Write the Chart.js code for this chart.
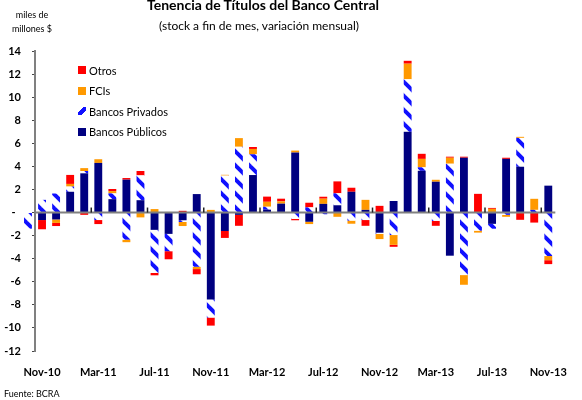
<!DOCTYPE html>
<html>
<head>
<meta charset="utf-8">
<script src="https://cdn.jsdelivr.net/npm/chart.js@4.4.0/dist/chart.umd.min.js"></script>
<style>
  body { margin: 0; background: #fff; font-family: Lato, "Open Sans", sans-serif; color: #000; }
  #wrap { position: relative; width: 582px; height: 400px; overflow: hidden; }
  #chart { position: absolute; left: 0; top: 0; }
  .title { position: absolute; left: 0; width: 526px; top: -4px; text-align: center; font-weight: bold; font-size: 14px; }
  .subtitle { position: absolute; left: 0; width: 518px; top: 18px; text-align: center; font-size: 12px; }
  .unit { position: absolute; left: 4px; width: 56px; text-align: center; font-size: 9px; line-height: 14px; top: 8px; }
  .source { position: absolute; left: 4px; top: 388px; font-size: 9px; }
  .legend { position: absolute; left: 78px; top: 60px; font-size: 11px; }
  .legend div { height: 20.5px; display: flex; align-items: center; }
  .legend span.sw { display: inline-block; width: 8px; height: 8px; margin-right: 3px; }
</style>
</head>
<body>
<div id="wrap">
  <canvas id="chart" width="582" height="400"></canvas>
  <div class="title">Tenencia de Títulos del Banco Central</div>
  <div class="subtitle">(stock a fin de mes, variación mensual)</div>
  <div class="unit">miles de<br>millones $</div>
  <div class="source">Fuente: BCRA</div>
  <div class="legend" id="legend"></div>
</div>
<script>
const months = ["Oct-10","Nov-10","Dec-10","Jan-11","Feb-11","Mar-11","Apr-11","May-11","Jun-11","Jul-11","Aug-11","Sep-11",
  "Oct-11","Nov-11","Dec-11","Jan-12","Feb-12","Mar-12","Apr-12","May-12","Jun-12","Jul-12","Aug-12","Sep-12",
  "Oct-12","Nov-12","Dec-12","Jan-13","Feb-13","Mar-13","Apr-13","May-13","Jun-13","Jul-13","Aug-13","Sep-13","Oct-13","Nov-13"];

const publicos = [0, -0.65, -0.6, 1.8, 3.4, 4.3, 1.16, 2.85, 1.07, -1.5, -1.85, -0.67,
  1.6, -7.53, -1.6, -0.2, 3.25, 0.25, 0.77, 5.2, -0.8, 0.75, 0.63, 1.8,
  0.23, -1.75, 1.0, 7.0, 3.62, 2.67, -3.74, 4.75, 0, -0.98, 4.65, 3.97, 0, 2.33];
const privados = [-1.4, 1.1, 1.65, 0.45, 0.2, -0.65, 0.5, -2.35, 2.15, -3.74, -1.5, -0.15,
  -4.7, -1.57, 3.2, 5.7, 1.8, 0.25, 0, -0.55, 0.45, -0.15, 1.04, -0.7,
  -0.65, -0.1, -1.95, 4.55, 0.3, -0.72, 4.23, -5.42, -1.57, -0.42, -0.2, 2.5, 0.23, -3.77];
const fcis = [0, 0, -0.3, 0.23, 0.25, 0.32, 0.2, -0.22, -0.42, 0.3, 0.05, -0.35,
  -0.2, 0.23, 0.07, 0.75, 0.46, 0.43, 0.2, 0.17, -0.2, 0.45, -0.37, -0.27,
  0.87, -0.45, -0.85, 1.35, 0.73, 0.17, 0.52, -0.84, -0.17, 0.32, -0.17, 0.09, 0.96, -0.36];
const otros = [0, -0.8, -0.27, 0.78, -0.2, -0.35, 0.18, 0.14, 0.38, -0.2, -0.7, 0.15,
  -0.45, -0.7, -0.6, -0.95, 0.17, 0.45, 0.23, -0.12, 0.4, 0.17, 1.03, 0.35,
  -0.5, 0.58, -0.17, 0.25, 0.44, -0.43, 0.09, 0.09, 1.62, 0.08, 0.1, -0.63, -0.87, -0.34];

const yTicks = [14, 12, 10, 8, 6, 4, 2, 0, -2, -4, -6, -8, -10, -12];

const navy = "#000080";
const red = "#ff0000";
const orange = "#ff9900";
const stripeBlue = "#1010ff";

// diagonal stripes for Bancos Privados
function makeStripes() {
  const p = 14;
  const c = document.createElement("canvas");
  c.width = p; c.height = p;
  const g = c.getContext("2d");
  g.fillStyle = "#fff";
  g.fillRect(0, 0, p, p);
  g.strokeStyle = stripeBlue;
  g.lineWidth = 4;
  for (let k = -1; k <= 1; k++) {
    g.beginPath();
    g.moveTo(-2, k * p - 2);
    g.lineTo(p + 2, p + k * p + 2);
    g.stroke();
  }
  return g.createPattern(c, "repeat");
}
const stripes = makeStripes();

// legend (Otros on top)
const legendItems = [
  ["Otros", red],
  ["FCIs", orange],
  ["Bancos Privados", "linear-gradient(135deg, #fff 0 35%, " + stripeBlue + " 35% 70%, #fff 70%)"],
  ["Bancos Públicos", navy]
];
const leg = document.getElementById("legend");
legendItems.forEach(([name, bg]) => {
  const row = document.createElement("div");
  row.innerHTML = "<span class='sw' style='background:" + bg + "'></span>" + name;
  leg.appendChild(row);
});

const zeroLine = {
  id: "zeroLine",
  afterDatasetsDraw(chart) {
    const ctx = chart.ctx;
    const x = chart.scales.x;
    const y = chart.scales.y;
    const y0 = y.getPixelForValue(0);
    ctx.save();
    ctx.strokeStyle = "#808080";
    ctx.lineWidth = 2;
    ctx.beginPath();
    ctx.moveTo(chart.chartArea.left, y0);
    ctx.lineTo(chart.chartArea.right, y0);
    ctx.stroke();
    // little marks between label groups
    ctx.strokeStyle = "#222";
    ctx.lineWidth = 1.5;
    for (let i = 5; i < months.length; i += 4) {
      const xp = (x.getPixelForValue(i - 1) + x.getPixelForValue(i)) / 2;
      ctx.beginPath();
      ctx.moveTo(xp, y0 - 5);
      ctx.lineTo(xp, y0);
      ctx.stroke();
    }
    ctx.restore();
  }
};

const barOpts = { borderWidth: 0, barPercentage: 0.56, categoryPercentage: 1, clip: false };

new Chart(document.getElementById("chart"), {
  type: "bar",
  data: {
    labels: months,
    datasets: [
      Object.assign({ label: "Bancos Públicos", data: publicos, backgroundColor: navy }, barOpts),
      Object.assign({ label: "Bancos Privados", data: privados, backgroundColor: stripes }, barOpts),
      Object.assign({ label: "FCIs", data: fcis, backgroundColor: orange }, barOpts),
      Object.assign({ label: "Otros", data: otros, backgroundColor: red }, barOpts)
    ]
  },
  options: {
    responsive: false,
    animation: false,
    layout: { padding: { top: 51, right: 11, left: 0, bottom: 0 } },
    plugins: {
      legend: { display: false },
      tooltip: { enabled: false }
    },
    scales: {
      x: {
        stacked: true,
        min: "Nov-10",
        grid: { display: false, drawTicks: false },
        border: { display: false },
        afterFit(scale) { scale.height = 49; },
        ticks: {
          autoSkip: false,
          maxRotation: 0,
          padding: 15,
          color: "#000",
          font: { family: "Lato", size: 11, weight: "bold" },
          callback: function (value) {
            return (value - 1) % 4 === 0 ? this.getLabelForValue(value) : "";
          }
        }
      },
      y: {
        stacked: true,
        min: -12,
        max: 14,
        afterFit(scale) { scale.width = 35; },
        afterBuildTicks(scale) { scale.ticks = yTicks.map(v => ({ value: v })); },
        grid: { drawOnChartArea: false, tickLength: 3, tickColor: "#444" },
        border: { color: "#808080", width: 2 },
        ticks: {
          padding: 11,
          color: "#000",
          font: { family: "Lato", size: 11, weight: "bold" },
          callback: v => (v === 0 ? "-  " : String(v))
        }
      }
    }
  },
  plugins: [zeroLine]
});
</script>
</body>
</html>
